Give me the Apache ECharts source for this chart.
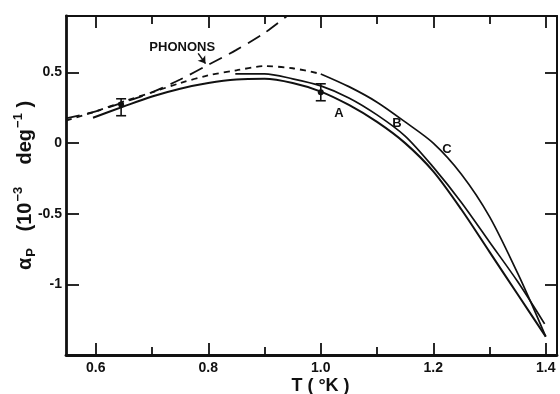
<!DOCTYPE html>
<html>
<head>
<meta charset="utf-8">
<script src="https://cdn.jsdelivr.net/npm/echarts@6/dist/echarts.min.js"></script>
<style>
  html, body { margin: 0; padding: 0; background: #fff; }
  #chart { width: 560px; height: 394px; }
</style>
</head>
<body>
<div id="chart"></div>
<script>
// tick values
const xMajor = [0.6, 0.8, 1.0, 1.2, 1.4];
const xMinor = [0.7, 0.9, 1.1, 1.3];
const yMajor = [-1, -0.5, 0, 0.5];

// phonon contribution (long dashes)
const phononT = [0.547, 0.60, 0.65, 0.70, 0.75, 0.80, 0.85, 0.90, 0.94];
const phononV = [0.175, 0.225, 0.29, 0.36, 0.45, 0.555, 0.66, 0.78, 0.9];

// curve C, dashed below 1 K, solid above
const cDashT = [0.547, 0.60, 0.65, 0.70, 0.75, 0.80, 0.85, 0.90, 0.95, 1.00];
const cDashV = [0.16, 0.225, 0.295, 0.36, 0.425, 0.48, 0.515, 0.545, 0.53, 0.49];
const cT = [1.00, 1.05, 1.10, 1.15, 1.20, 1.25, 1.30, 1.35, 1.375, 1.40];
const cV = [0.49, 0.40, 0.29, 0.15, 0.0, -0.22, -0.52, -0.92, -1.14, -1.37];

// curve A
const aT = [0.595, 0.65, 0.70, 0.75, 0.80, 0.85, 0.90, 0.95, 1.00, 1.05, 1.10, 1.15, 1.20, 1.25, 1.30, 1.35, 1.40];
const aV = [0.18, 0.26, 0.33, 0.385, 0.425, 0.45, 0.455, 0.425, 0.365, 0.27, 0.15, 0.0, -0.2, -0.47, -0.77, -1.07, -1.37];

// curve B
const bT = [0.848, 0.90, 0.95, 1.00, 1.05, 1.10, 1.15, 1.20, 1.25, 1.30, 1.35, 1.398];
const bV = [0.49, 0.49, 0.455, 0.405, 0.32, 0.2, 0.05, -0.17, -0.42, -0.70, -0.98, -1.28];

// measured points with error bars
const errT = [0.645, 1.0];
const errMid = [0.274, 0.36];
const errLow = [0.194, 0.30];
const errHigh = [0.314, 0.42];

// text annotations
const noteText = ['PHONONS', 'A', 'B', 'C'];
const noteT = [0.7536, 1.0325, 1.1356, 1.2245];
const noteV = [0.677, 0.21, 0.139, -0.045];
const arrowFrom = [0.782, 0.635];
const arrowTo = [0.795, 0.563];

const zip = (xs, ys) => xs.map((x, i) => [x, ys[i]]);
const INK = '#111';
const FONT = 'Liberation Sans';

const chart = echarts.init(document.getElementById('chart'));

const tickAxis = (pos, values, len, lineW, showLine, labels) => ({
  type: 'value',
  position: pos,
  min: 0.547,
  max: 1.42,
  axisLine: { show: showLine, onZero: false, lineStyle: { color: INK, width: lineW } },
  axisTick: { show: true, inside: true, length: len, customValues: values, lineStyle: { color: INK, width: 1.8 } },
  axisLabel: labels ? {
    show: true, customValues: values, margin: 6,
    formatter: v => v.toFixed(1),
    color: INK, fontFamily: FONT, fontSize: 14, fontWeight: 'bold'
  } : { show: false },
  splitLine: { show: false }
});

const lineSeries = (data, type, width) => ({
  type: 'line',
  data: data,
  smooth: 0.3,
  showSymbol: false,
  symbol: 'none',
  silent: true,
  clip: true,
  lineStyle: { color: INK, width: width || 1.8, type: type }
});

const options = {
  backgroundColor: '#fff',
  animation: false,
  grid: { left: 66, right: 3, top: 16, bottom: 39, outerBoundsMode: 'none', containLabel: false },
  xAxis: [
    Object.assign(tickAxis('bottom', xMajor, 12, 2.8, true, true), {
      name: 'T ( °K )',
      nameLocation: 'middle',
      nameGap: 22,
      nameMoveOverlap: false,
      nameTextStyle: { color: INK, fontFamily: FONT, fontSize: 18, fontWeight: 'bold', verticalAlign: 'top', padding: [0, 0, 0, 18] }
    }),
    tickAxis('bottom', xMinor, 8, 0, false, false),
    tickAxis('top', xMajor, 12, 2, true, false),
    tickAxis('top', xMinor, 8, 0, false, false)
  ],
  yAxis: [
    {
      type: 'value',
      position: 'left',
      min: -1.5,
      max: 0.9,
      axisLine: { show: true, onZero: false, lineStyle: { color: INK, width: 2.8 } },
      axisTick: { show: true, inside: true, length: 13, customValues: yMajor, lineStyle: { color: INK, width: 1.8 } },
      axisLabel: {
        show: true, customValues: yMajor, margin: 4,
        formatter: v => String(v),
        color: INK, fontFamily: FONT, fontSize: 14, fontWeight: 'bold'
      },
      splitLine: { show: false },
      name: '{b|α}{s|P}{b|   (10}{u|−3}{b|    deg}{u|−1}{b| )}',
      nameLocation: 'middle',
      nameGap: 28,
      nameMoveOverlap: false,
      nameTextStyle: {
        rich: {
          b: { fontFamily: FONT, fontSize: 20, fontWeight: 'bold', color: INK, lineHeight: 26 },
          s: { fontFamily: FONT, fontSize: 13, fontWeight: 'bold', color: INK, lineHeight: 26, verticalAlign: 'bottom', padding: [9, 0, 0, 1] },
          u: { fontFamily: FONT, fontSize: 13, fontWeight: 'bold', color: INK, lineHeight: 26, verticalAlign: 'top', padding: [0, 0, 0, 1] }
        }
      }
    },
    {
      type: 'value',
      position: 'right',
      min: -1.5,
      max: 0.9,
      axisLine: { show: true, onZero: false, lineStyle: { color: INK, width: 2 } },
      axisTick: { show: true, inside: true, length: 12, customValues: yMajor, lineStyle: { color: INK, width: 1.8 } },
      axisLabel: { show: false },
      splitLine: { show: false }
    }
  ],
  series: [
    lineSeries(zip(phononT, phononV), [14, 8], 1.8),
    lineSeries(zip(cDashT, cDashV), [6, 5], 1.8),
    lineSeries(zip(cT, cV), 'solid', 1.7),
    lineSeries(zip(aT, aV), 'solid', 2),
    lineSeries(zip(bT, bV), 'solid', 1.7),
    {
      type: 'custom',
      silent: true,
      data: errT.map((t, i) => [t, errLow[i], errHigh[i], errMid[i]]),
      renderItem: function (params, api) {
        const t = api.value(0);
        const lo = api.coord([t, api.value(1)]);
        const hi = api.coord([t, api.value(2)]);
        const mid = api.coord([t, api.value(3)]);
        const st = { stroke: INK, lineWidth: 1.6 };
        return {
          type: 'group',
          children: [
            { type: 'line', shape: { x1: lo[0], y1: lo[1], x2: hi[0], y2: hi[1] }, style: st },
            { type: 'line', shape: { x1: lo[0] - 5, y1: lo[1], x2: lo[0] + 5, y2: lo[1] }, style: st },
            { type: 'line', shape: { x1: hi[0] - 5, y1: hi[1], x2: hi[0] + 5, y2: hi[1] }, style: st },
            { type: 'circle', shape: { cx: mid[0], cy: mid[1], r: 3 }, style: { fill: INK } }
          ]
        };
      }
    },
    {
      type: 'scatter',
      silent: true,
      symbolSize: 1,
      itemStyle: { opacity: 0 },
      data: noteText.map((n, i) => ({ name: n, value: [noteT[i], noteV[i]] })),
      label: {
        show: true,
        position: 'inside',
        opacity: 1,
        formatter: p => p.name,
        color: INK,
        fontFamily: FONT,
        fontSize: 13,
        fontWeight: 'bold'
      }
    },
    {
      type: 'lines',
      coordinateSystem: 'cartesian2d',
      silent: true,
      symbol: ['none', 'arrow'],
      symbolSize: 7,
      lineStyle: { color: INK, width: 1.5, opacity: 1 },
      data: [{ coords: [arrowFrom, arrowTo] }]
    }
  ]
};

chart.setOption(options);
</script>
</body>
</html>
